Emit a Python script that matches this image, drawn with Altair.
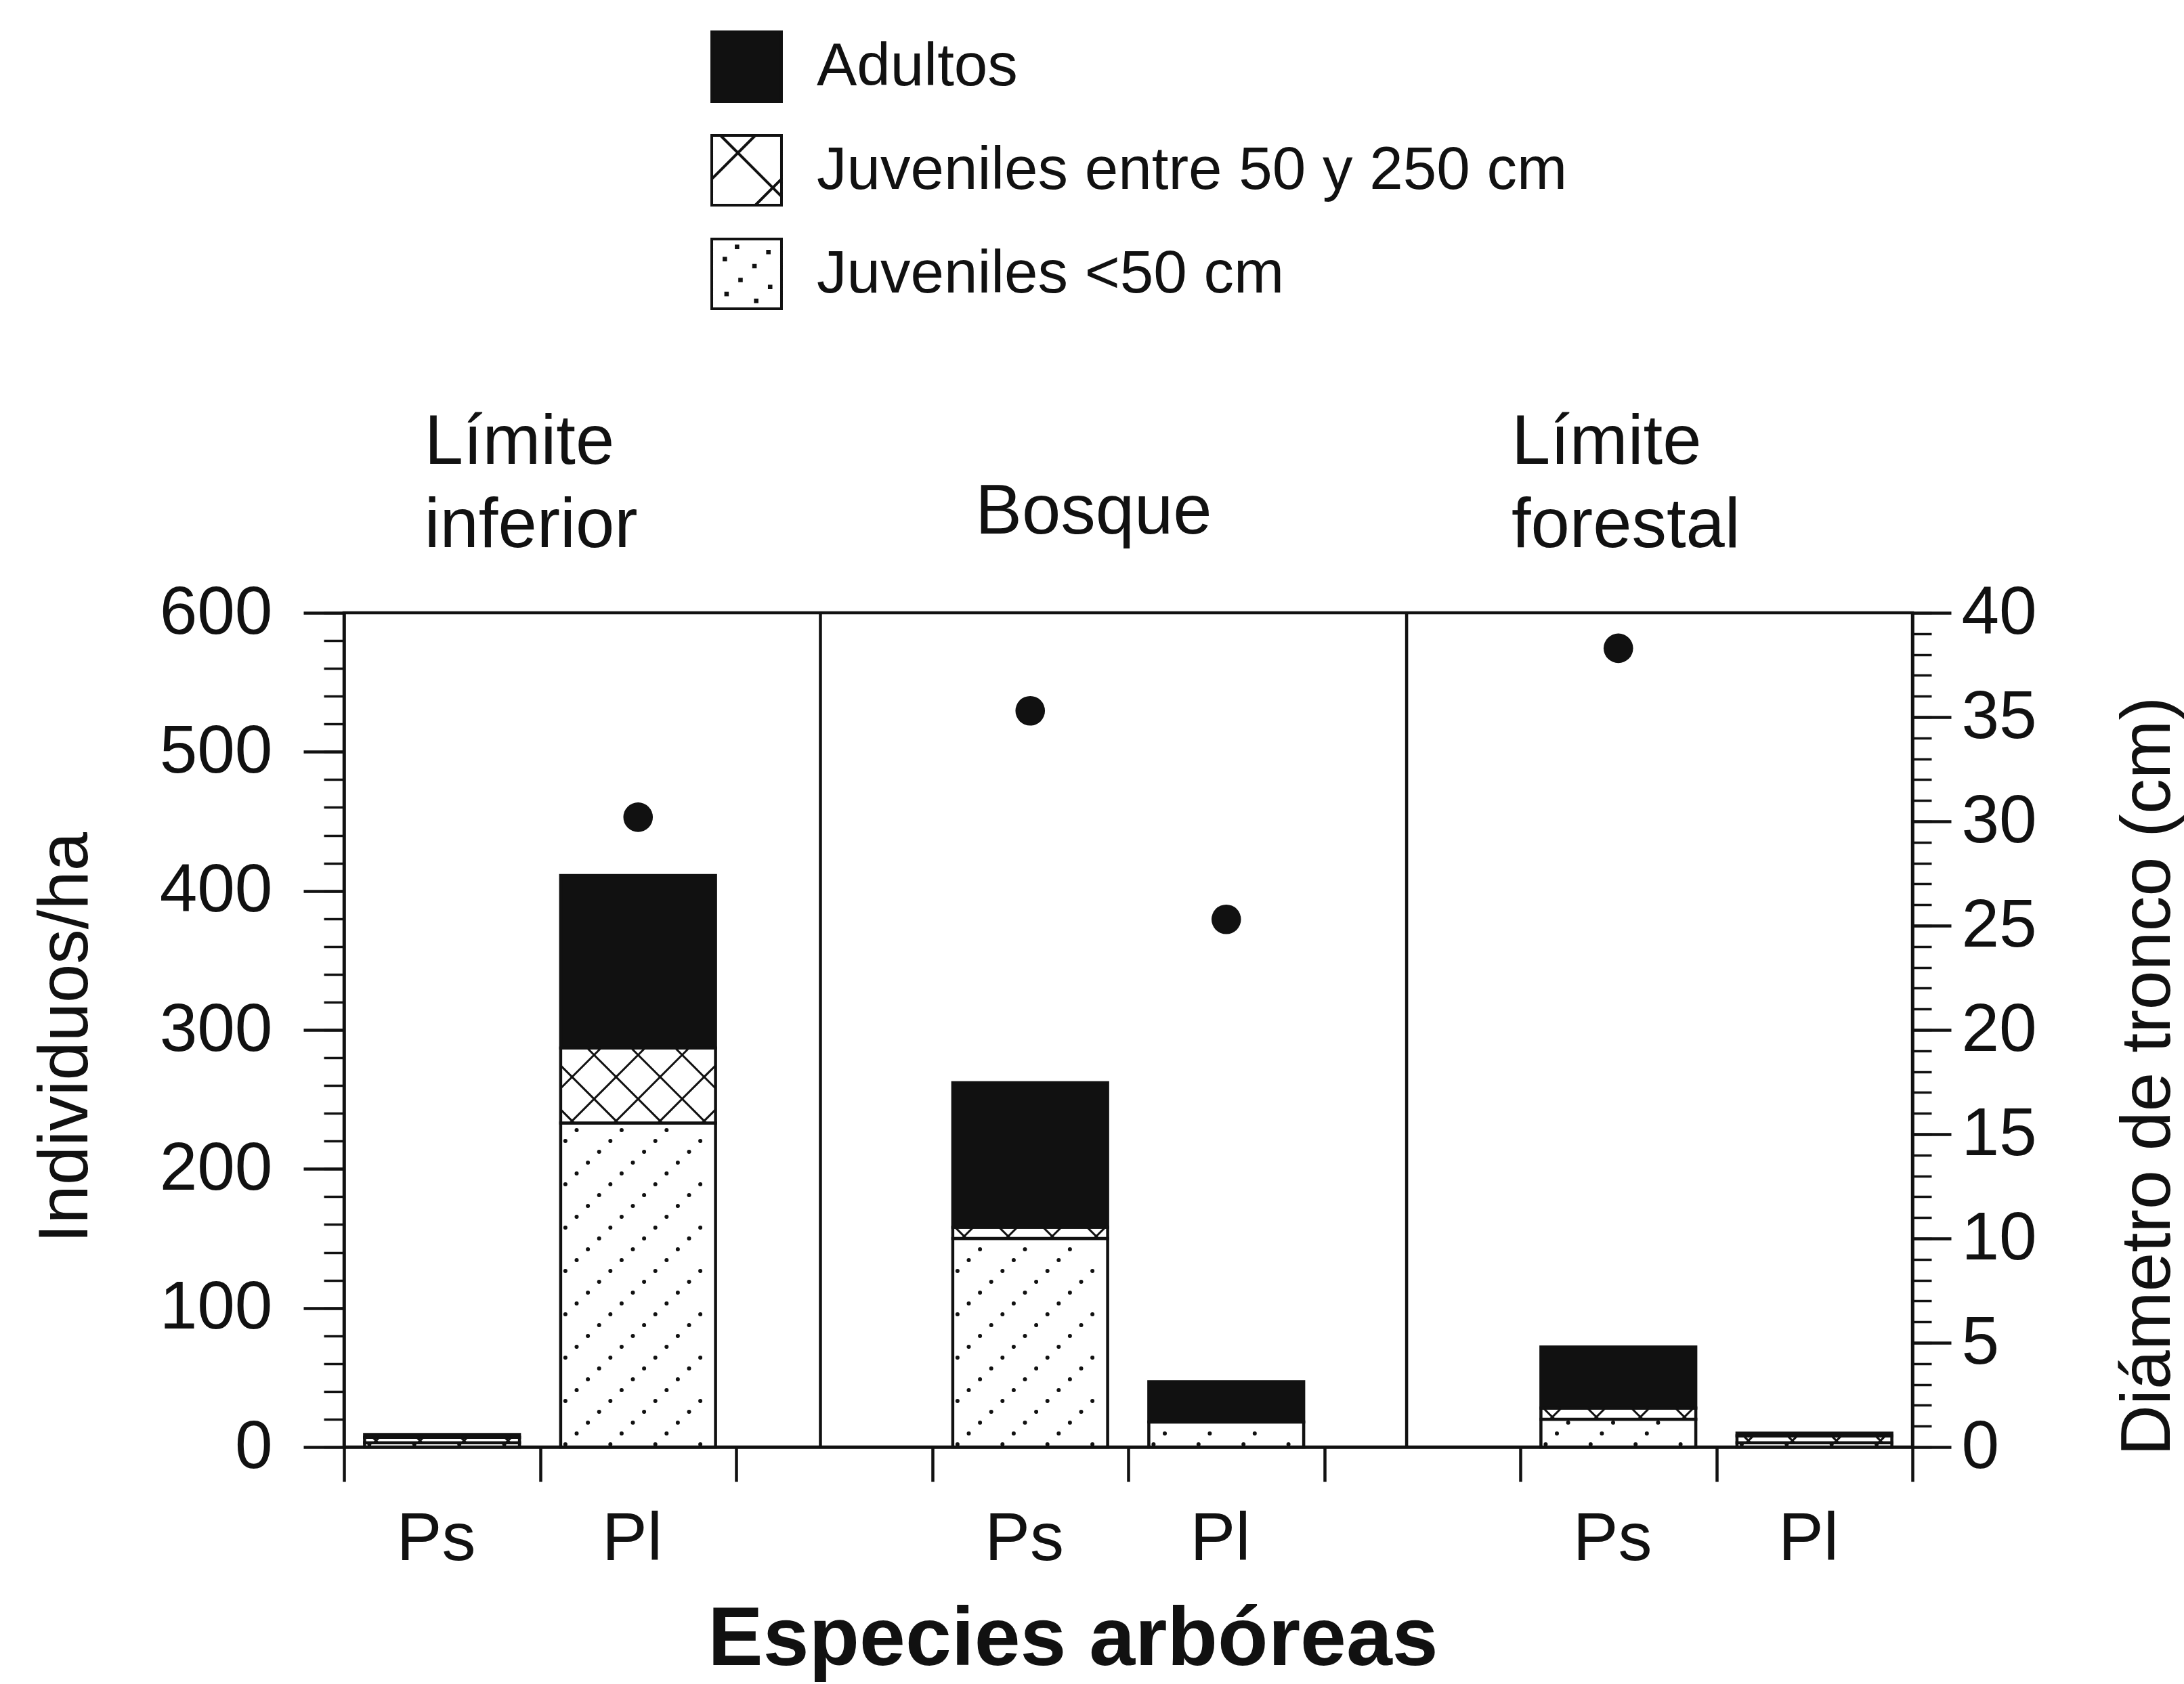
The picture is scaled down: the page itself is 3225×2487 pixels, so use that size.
import altair as alt
import pandas as pd

FONT = "Liberation Sans"
BLACK = "#111111"

# ---------------------------------------------------------------- data
site = ["Límite inferior", "Límite inferior", "Bosque", "Bosque",
        "Límite forestal", "Límite forestal"]
species = ["Ps", "Pl", "Ps", "Pl", "Ps", "Pl"]
slot = [0, 1, 3, 4, 6, 7]                 # slot along the x axis (2 and 5 are gaps)
juv_lt50 = [3, 233, 150, 18, 20, 3]       # Juveniles <50 cm (individuos/ha)
juv_50_250 = [4, 54, 8, 0, 8, 5]          # Juveniles entre 50 y 250 cm
adultos = [2, 124, 104, 29, 44, 2]        # Adultos

diam_slot = [1, 3, 4, 6]                  # bars that carry a mean trunk diameter
diam_cm = [30.2, 35.3, 25.3, 38.3]        # Diámetro de tronco (cm)

panel_lines = [["Límite", "inferior"], ["Bosque"], ["Límite", "forestal"]]
panel_x = [0.41, 3.22, 5.955]
separators = [2.43, 5.42]

classes = ["Adultos", "Juveniles entre 50 y 250 cm", "Juveniles <50 cm"]

# ---------------------------------------------------------------- layout
W, H = 2316, 1232
X_MAX, Y_MAX, D_MAX = 8, 600, 40
PXX = W / X_MAX
PXY = H / Y_MAX
HALF = 0.395
LABEL_SHIFT = -0.03                       # species labels sit a touch left of bar centres

x_scale = alt.Scale(domain=[0, X_MAX], nice=False, zero=False)
y_scale = alt.Scale(domain=[0, Y_MAX], nice=False)
d_scale = alt.Scale(domain=[0, D_MAX], nice=False)

# ---------------------------------------------------------------- stacked segments
rows = []
for s, sp, k, a, b, c in zip(site, species, slot, juv_lt50, juv_50_250, adultos):
    lo = 0
    for cls, v in (("Juveniles <50 cm", a), ("Juveniles entre 50 y 250 cm", b), ("Adultos", c)):
        if v > 0:
            rows.append(dict(site=s, species=sp, cls=cls,
                             x0=k + 0.5 - HALF, x1=k + 0.5 + HALF,
                             lo=lo, hi=lo + v,
                             fill=BLACK if cls == "Adultos" else "white"))
        lo += v
seg = pd.DataFrame(rows)


def dot_texture(r, sx=16.6, sy=16.0):
    """Stippled fill: dots on rising diagonals inside one segment."""
    out = []
    w = (r.x1 - r.x0) * PXX
    h = (r.hi - r.lo) * PXY
    nx = int((w - 14) // sx) + 1
    ny = int(max(h - 8, 0) // sy) + 1
    for j in range(ny):
        for i in range(nx):
            if (i - j) % 4 == 0:
                out.append(dict(x=r.x0 + (7 + i * sx) / PXX,
                                y=r.lo + (4 + j * sy) / PXY))
    return out


def hatch_texture(r, step=65.0):
    """Cross-hatched fill clipped to one segment."""
    w = (r.x1 - r.x0) * PXX
    h = (r.hi - r.lo) * PXY
    lines = []
    c = 20.0
    while c < w + h:                      # "\" strokes: x + y = c
        xa, xb = max(0.0, c - h), min(w, c)
        if xb > xa:
            lines.append((xa, c - xa, xb, c - xb))
        c += step
    c = -w + 20.0
    while c < h:                          # "/" strokes: y - x = c
        xa, xb = max(0.0, -c), min(w, h - c)
        if xb > xa:
            lines.append((xa, xa + c, xb, xb + c))
        c += step
    return [dict(x=r.x0 + xa / PXX, y=r.lo + ya / PXY,
                 x2=r.x0 + xb / PXX, y2=r.lo + yb / PXY)
            for xa, ya, xb, yb in lines]


dots = pd.DataFrame([d for r in seg[seg.cls == "Juveniles <50 cm"].itertuples()
                     for d in dot_texture(r)])
hatch = pd.DataFrame([d for r in seg[seg.cls == "Juveniles entre 50 y 250 cm"].itertuples()
                      for d in hatch_texture(r)])

diam = pd.DataFrame({"x": [k + 0.5 for k in diam_slot], "d": diam_cm})
seps = pd.DataFrame({"x": separators, "bottom": 0, "top": Y_MAX})
labels = pd.DataFrame({"x": [k + 0.5 + LABEL_SHIFT for k in slot], "species": species})

title_rows = []
for lines, xp in zip(panel_lines, panel_x):
    for i, t in enumerate(lines):
        above = 117 if len(lines) == 1 else 220 - 123 * i
        title_rows.append(dict(x=xp, y=Y_MAX + above / PXY, text=t))
titles = pd.DataFrame(title_rows)

legend_df = pd.DataFrame({"cls": classes})

# legend swatches as symbol paths in the unit square [-1, 1]
SQUARE = "M-1,-1H1V1H-1Z"
HATCH_PATH = SQUARE + "M-0.75,-1L1,0.75M0.25,-1L-1,0.25M1,0.25L0.25,1"
DOT_XY = [(-0.6, 0.55), (-0.2, 0.15), (0.2, -0.25), (0.6, -0.65),
          (0.25, 0.75), (0.65, 0.35), (-0.65, -0.45), (-0.3, -0.8)]
DOT_PATH = SQUARE + "".join(f"M{x},{y}h0.05v0.05h-0.05Z" for x, y in DOT_XY)

legend = alt.Legend(orient="none", legendX=541, legendY=-860, title=None,
                    symbolSize=10600, symbolStrokeWidth=4, symbolStrokeColor=BLACK,
                    symbolOpacity=1, labelFont=FONT, labelFontSize=89,
                    labelColor=BLACK, labelOffset=50, labelLimit=0,
                    rowPadding=34, padding=0)

# ---------------------------------------------------------------- axes
x_axis = alt.Axis(orient="bottom", values=list(range(0, X_MAX + 1)),
                  tickSize=51, tickWidth=4.5, tickColor=BLACK, labels=False,
                  domainWidth=4.5, domainColor=BLACK, grid=False,
                  title="Especies arbóreas", titleFont=FONT,
                  titleFontSize=122, titleFontWeight="bold", titleColor=BLACK,
                  titleX=1076, titleY=321, titleAlign="center",
                  titleBaseline="alphabetic")

left_axis = alt.Axis(orient="left", values=list(range(0, Y_MAX + 1, 100)),
                     tickSize=60, tickWidth=4.5, tickColor=BLACK,
                     domainWidth=4.5, domainColor=BLACK, grid=False,
                     labelFont=FONT, labelFontSize=100, labelColor=BLACK,
                     labelPadding=46, title="Individuos/ha", titleFont=FONT,
                     titleFontSize=103, titleFontWeight="normal", titleColor=BLACK,
                     titleAngle=270, titleX=-380, titleY=627,
                     titleAlign="center", titleBaseline="alphabetic")

left_minor = alt.Axis(orient="left", values=list(range(0, Y_MAX + 1, 20)),
                      tickSize=30, tickWidth=3.5, tickColor=BLACK,
                      labels=False, domain=False, grid=False, title=None)

right_axis = alt.Axis(orient="right", values=list(range(0, D_MAX + 1, 5)),
                      tickSize=57, tickWidth=4.5, tickColor=BLACK,
                      domainWidth=4.5, domainColor=BLACK, grid=False,
                      labelFont=FONT, labelFontSize=100, labelColor=BLACK,
                      labelPadding=15, title="Diámetro de tronco (cm)",
                      titleFont=FONT, titleFontSize=104, titleFontWeight="normal",
                      titleColor=BLACK, titleAngle=270, titleX=379, titleY=684,
                      titleAlign="center", titleBaseline="alphabetic")

right_minor = alt.Axis(orient="right", values=list(range(0, D_MAX + 1)),
                       tickSize=28, tickWidth=3.5, tickColor=BLACK,
                       labels=False, domain=False, grid=False, title=None)


def X(field):
    # every layer carries the same bottom axis so that the shared axis merges cleanly
    return alt.X(field, type="quantitative", scale=x_scale, axis=x_axis)


# ---------------------------------------------------------------- layers
bars = alt.Chart(seg).mark_rect(stroke=BLACK, strokeWidth=4.5, opacity=1).encode(
    x=X("x0"),
    x2="x1:Q",
    y=alt.Y("lo:Q", scale=y_scale, axis=left_axis),
    y2="hi:Q",
    fill=alt.Fill("fill:N", scale=None),
)

minor_l = alt.Chart(seg).mark_point(opacity=0).encode(
    x=X("x0"),
    y=alt.Y("hi:Q", scale=y_scale, axis=left_minor),
)

stipple = alt.Chart(dots).mark_circle(size=36, color=BLACK, opacity=1).encode(
    x=X("x"),
    y=alt.Y("y:Q", scale=y_scale, axis=None),
)

hatching = alt.Chart(hatch).mark_rule(strokeWidth=3, color=BLACK).encode(
    x=X("x"),
    x2="x2:Q",
    y=alt.Y("y:Q", scale=y_scale, axis=None),
    y2="y2:Q",
)

sep_rules = alt.Chart(seps).mark_rule(strokeWidth=4.5, color=BLACK).encode(
    x=X("x"),
    y=alt.Y("bottom:Q", scale=y_scale, axis=None),
    y2="top:Q",
)

diam_dots = alt.Chart(diam).mark_circle(size=1900, color=BLACK, opacity=1).encode(
    x=X("x"),
    y=alt.Y("d:Q", scale=d_scale, axis=right_axis),
)

minor_r = alt.Chart(diam).mark_point(opacity=0).encode(
    x=X("x"),
    y=alt.Y("d:Q", scale=d_scale, axis=right_minor),
)

species_text = alt.Chart(labels).mark_text(
    font=FONT, fontSize=100, color=BLACK, align="center", baseline="alphabetic"
).encode(
    x=X("x"),
    y=alt.value(H + 167),
    text="species:N",
)

panel_text = alt.Chart(titles).mark_text(
    font=FONT, fontSize=103, color=BLACK, align="left", baseline="alphabetic"
).encode(
    x=X("x"),
    y=alt.Y("y:Q", scale=y_scale, axis=None),
    text="text:N",
)

legend_layer = alt.Chart(legend_df).mark_point(filled=True, opacity=0).encode(
    fill=alt.Fill("cls:N", scale=alt.Scale(domain=classes, range=[BLACK, "white", "white"]),
                  legend=legend),
    shape=alt.Shape("cls:N", scale=alt.Scale(domain=classes,
                                             range=[SQUARE, HATCH_PATH, DOT_PATH]),
                    legend=legend),
)

chart = alt.layer(
    bars, minor_l, stipple, hatching, sep_rules, diam_dots, minor_r,
    species_text, panel_text, legend_layer,
).resolve_scale(
    y="independent"
).properties(
    width=W, height=H,
    padding={"left": 508, "top": 905, "right": 401, "bottom": 350},
    autosize=alt.AutoSizeParams(type="none"),
).configure(
    background="white"
).configure_view(
    stroke=BLACK, strokeWidth=4.5
)

chart.save("out.html", embed_options={"renderer": "svg", "actions": False})
